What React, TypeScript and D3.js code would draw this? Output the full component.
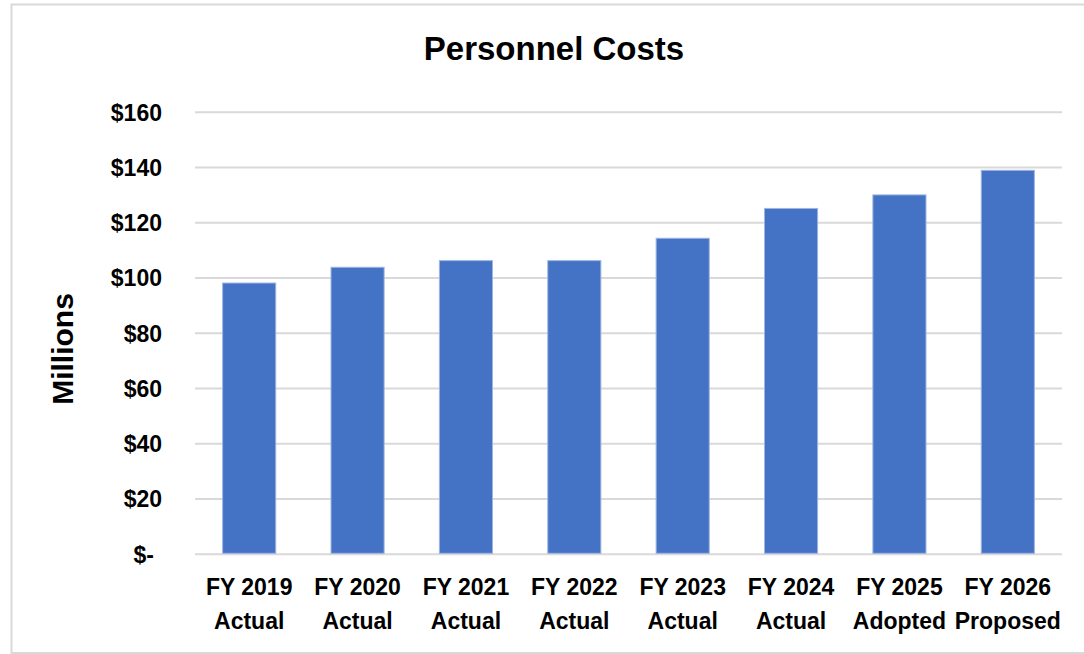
import React from "react";
import * as d3 from "d3";

const categories = ["FY 2019", "FY 2020", "FY 2021", "FY 2022", "FY 2023", "FY 2024", "FY 2025", "FY 2026"];
const subLabels = ["Actual", "Actual", "Actual", "Actual", "Actual", "Actual", "Adopted", "Proposed"];
const values = [98.2, 103.9, 106.3, 106.3, 114.4, 125.2, 130.1, 139.0];
const yTicks = [0, 20, 40, 60, 80, 100, 120, 140, 160];

const W = 1084;
const H = 654;
const FONT = "'Liberation Sans', Arial, Helvetica, sans-serif";

export default function App() {
  const x = d3
    .scaleBand<string>()
    .domain(categories)
    .range([195, 1062])
    .paddingInner(0.51)
    .paddingOuter(0.255);
  const y = d3.scaleLinear().domain([0, 160]).range([554.3, 112.3]);
  const fmt = (v: number) => (v === 0 ? "$-" : d3.format("$,.0f")(v));

  return (
    <svg
      width={W}
      height={H}
      style={{ position: "absolute", left: 0, top: 0, background: "#fff" }}
    >
      <rect x={0} y={0} width={W} height={H} fill="#fff" />
      <rect
        x={11.5}
        y={4.5}
        width={W + 10}
        height={648.5}
        fill="none"
        stroke="#d9d9d9"
        strokeWidth={2}
      />
      <text
        x={554}
        y={59.5}
        textAnchor="middle"
        fontFamily={FONT}
        fontWeight="bold"
        fontSize={33}
        fill="#000"
      >
        Personnel Costs
      </text>
      <text
        transform={`translate(73,349) rotate(-90)`}
        textAnchor="middle"
        fontFamily={FONT}
        fontWeight="bold"
        fontSize={30}
        fill="#000"
      >
        Millions
      </text>
      {yTicks.map((t) => (
        <g key={t}>
          <line
            x1={195}
            x2={1062}
            y1={y(t)}
            y2={y(t)}
            stroke="#d9d9d9"
            strokeWidth={2}
          />
          <text
            x={t === 0 ? 154 : 162}
            y={y(t)}
            dy="0.36em"
            textAnchor="end"
            fontFamily={FONT}
            fontWeight="bold"
            fontSize={23}
            fill="#000"
          >
            {fmt(t)}
          </text>
        </g>
      ))}
      {categories.map((c, i) => (
        <rect
          key={c}
          x={x(c)!}
          y={y(values[i])}
          width={x.bandwidth()}
          height={y(0) - y(values[i]) - 1}
          fill="#4472C4"
          stroke="#9db5e3"
          strokeWidth={1}
        />
      ))}
      {categories.map((c, i) => (
        <g key={c + "l"} fontFamily={FONT} fontWeight="bold" fontSize={23} fill="#000">
          <text x={x(c)! + x.bandwidth() / 2} y={594.5} textAnchor="middle">
            {c}
          </text>
          <text x={x(c)! + x.bandwidth() / 2} y={628.5} textAnchor="middle">
            {subLabels[i]}
          </text>
        </g>
      ))}
    </svg>
  );
}
